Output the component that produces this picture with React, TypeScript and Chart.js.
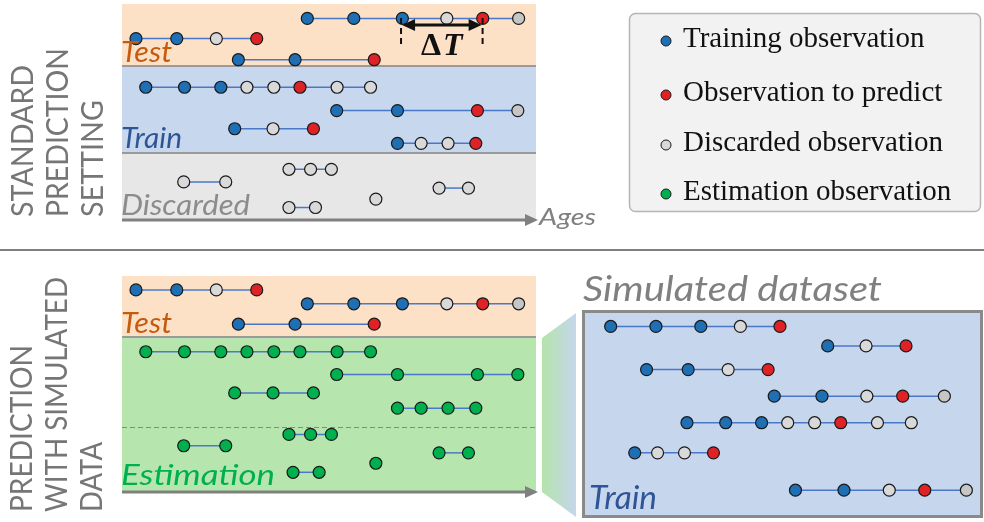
import { useEffect, useRef } from "react";
import { Chart, registerables } from "chart.js";
Chart.register(...registerables);

const W = 984;
const H = 522;

// ---------- data (ages in age units 0–100 along the "Ages" axis; lanes = row position) ----------
const testAges = [
  [44.1, 55.5, 67.4, 78.3, 87.1, 95.9],
  [2.1, 12.1, 21.8, 31.7],
  [27.2, 41.1, 60.5],
];
const testKinds = ["TTTDPd", "TTDP", "TTP"];
const testLanesTop = [0.75, 2.83, 5.0];
const testLanesBottom = [2.9, 1.47, 5.0];

const trainAges = [
  [4.5, 14.0, 22.9, 29.3, 35.9, 42.3, 51.4, 59.6],
  [51.3, 66.2, 85.8, 95.7],
  [26.3, 35.7, 45.6],
  [66.2, 72.0, 78.6, 85.4],
];
const trainKinds = ["TTTDDPDD", "TTPd", "TDP", "TDDP"];
const trainLanes = [7.83, 10.23, 12.1, 13.6];

const discardedAges = [[39.6, 44.9, 50.0], [13.8, 24.1], [76.4, 83.6], [60.9], [39.6, 46.1]];
const discardedLanes = [16.27, 17.57, 18.2, 19.33, 20.2];

const estimationAges = [
  [4.5, 14.0, 22.9, 29.3, 35.9, 42.3, 51.4, 59.6],
  [51.3, 66.2, 85.8, 95.7],
  [26.3, 35.7, 45.6],
  [66.2, 72.0, 78.6, 85.4],
  [39.6, 44.9, 50.0],
  [13.8, 24.1],
  [76.4, 83.6],
  [60.9],
  [40.6, 47.0],
];
const estimationLanes = [7.83, 10.17, 12.07, 13.63, 16.33, 17.5, 18.23, 19.3, 20.23];

const simAges = [
  [3.0, 14.1, 25.1, 34.8, 44.5],
  [56.2, 65.6, 75.4],
  [11.8, 22.0, 31.8, 41.6],
  [43.1, 54.8, 65.8, 74.6, 84.8],
  [21.7, 31.2, 40.0, 46.4, 53.0, 59.4, 68.4, 76.7],
  [8.9, 14.5, 21.1, 28.2],
  [48.3, 60.2, 71.3, 80.0, 90.2],
];
const simKinds = ["TTTDP", "TDP", "TTDP", "TTDPd", "TTTDDPDD", "TDDP", "TTDPd"];
const simLanes = [1.83, 3.83, 6.27, 9.0, 11.73, 14.83, 18.67];

const legendLabels = [
  "Training observation",
  "Observation to predict",
  "Discarded observation",
  "Estimation observation",
];
const legendKinds = ["T", "P", "D", "E"];

const topTitle = ["STANDARD", "PREDICTION", "SETTING"];
const bottomTitle = ["PREDICTION", "WITH SIMULATED", "DATA"];

// ---------- styles / layout ----------
const KIND_COLORS: Record<string, string> = {
  T: "#1f6fb4",
  P: "#df2226",
  D: "#d9d9d9",
  d: "#c6c6c6",
  E: "#00b04f",
};
const LINE_COLOR = "#4a78c8";
const PANEL_TOP = { x0: 122, top: 4, kx: 4.14, ky: 10 };
const PANEL_BOTTOM = { x0: 122, top: 276, kx: 4.14, ky: 10 };
const PANEL_SIM = { x0: 600, top: 310, kx: 4.14, ky: 10 };

type Panel = { x0: number; top: number; kx: number; ky: number };

function traj(ages: number[], kinds: string, lane: number, panel: Panel) {
  return {
    type: "scatter" as const,
    showLine: true,
    data: ages.map((a) => ({ x: panel.x0 + a * panel.kx, y: panel.top + lane * panel.ky })),
    borderColor: LINE_COLOR,
    borderWidth: 1.5,
    pointBackgroundColor: ages.map((_, i) => KIND_COLORS[kinds[i] || "D"]),
    pointBorderColor: "#1a1a1a",
    pointBorderWidth: 1.2,
    pointRadius: 6,
    clip: false as any,
  };
}

function buildDatasets() {
  const ds: any[] = [];
  testAges.forEach((a, i) => ds.push(traj(a, testKinds[i], testLanesTop[i], PANEL_TOP)));
  trainAges.forEach((a, i) => ds.push(traj(a, trainKinds[i], trainLanes[i], PANEL_TOP)));
  discardedAges.forEach((a, i) =>
    ds.push(traj(a, "D".repeat(a.length), discardedLanes[i], PANEL_TOP))
  );
  testAges.forEach((a, i) => ds.push(traj(a, testKinds[i], testLanesBottom[i], PANEL_BOTTOM)));
  estimationAges.forEach((a, i) =>
    ds.push(traj(a, "E".repeat(a.length), estimationLanes[i], PANEL_BOTTOM))
  );
  simAges.forEach((a, i) => ds.push(traj(a, simKinds[i], simLanes[i], PANEL_SIM)));
  return ds;
}

function arrowRight(ctx: CanvasRenderingContext2D, x0: number, x1: number, y: number, color: string) {
  ctx.save();
  ctx.strokeStyle = color;
  ctx.fillStyle = color;
  ctx.lineWidth = 3;
  ctx.beginPath();
  ctx.moveTo(x0, y);
  ctx.lineTo(x1 - 10, y);
  ctx.stroke();
  ctx.beginPath();
  ctx.moveTo(x1, y);
  ctx.lineTo(x1 - 13, y - 6);
  ctx.lineTo(x1 - 13, y + 6);
  ctx.closePath();
  ctx.fill();
  ctx.restore();
}

// vertical (rotated) text, stretched along its direction to a given length
function vText(ctx: CanvasRenderingContext2D, text: string, x: number, y: number, len: number) {
  const w = ctx.measureText(text).width;
  ctx.save();
  ctx.translate(x, y);
  ctx.rotate(-Math.PI / 2);
  ctx.scale(len / w, 1);
  ctx.textAlign = "left";
  ctx.textBaseline = "alphabetic";
  ctx.fillText(text, 0, 0);
  ctx.restore();
}

// draw text stretched horizontally to a given width (mimics a wider geometric font)
function fitText(ctx: CanvasRenderingContext2D, text: string, x: number, y: number, width: number) {
  const w = ctx.measureText(text).width;
  ctx.save();
  ctx.translate(x, y);
  ctx.scale(width / w, 1);
  ctx.textAlign = "left";
  ctx.textBaseline = "alphabetic";
  ctx.fillText(text, 0, 0);
  ctx.restore();
}

const decorPlugin = {
  id: "decor",
  beforeDatasetsDraw(chart: any) {
    const ctx: CanvasRenderingContext2D = chart.ctx;
    ctx.save();
    // top panel bands
    ctx.fillStyle = "#fde1c6";
    ctx.fillRect(122, 4, 414, 62);
    ctx.fillStyle = "#c6d7ee";
    ctx.fillRect(122, 66, 414, 87);
    ctx.fillStyle = "#e7e7e7";
    ctx.fillRect(122, 153, 414, 67);
    ctx.strokeStyle = "#9a9a9a";
    ctx.lineWidth = 2;
    ctx.beginPath();
    ctx.moveTo(122, 66);
    ctx.lineTo(536, 66);
    ctx.moveTo(122, 153);
    ctx.lineTo(536, 153);
    ctx.stroke();
    arrowRight(ctx, 122, 538, 220, "#808080");

    // divider
    ctx.strokeStyle = "#7f7f7f";
    ctx.lineWidth = 2;
    ctx.beginPath();
    ctx.moveTo(0, 250);
    ctx.lineTo(W, 250);
    ctx.stroke();

    // bottom panel bands
    ctx.fillStyle = "#fde1c6";
    ctx.fillRect(122, 276, 414, 61);
    ctx.fillStyle = "#b6e6ad";
    ctx.fillRect(122, 337, 414, 155);
    ctx.strokeStyle = "#9a9a9a";
    ctx.lineWidth = 2;
    ctx.beginPath();
    ctx.moveTo(122, 337);
    ctx.lineTo(536, 337);
    ctx.stroke();
    ctx.strokeStyle = "#6f9a63";
    ctx.lineWidth = 1;
    ctx.setLineDash([5, 3]);
    ctx.beginPath();
    ctx.moveTo(122, 427.5);
    ctx.lineTo(536, 427.5);
    ctx.stroke();
    ctx.setLineDash([]);
    arrowRight(ctx, 122, 538, 492, "#808080");

    // connector trapezoid
    const g = ctx.createLinearGradient(542, 0, 576, 0);
    g.addColorStop(0, "#b4e4ab");
    g.addColorStop(1, "#c5d6ec");
    ctx.fillStyle = g;
    ctx.beginPath();
    ctx.moveTo(542, 338);
    ctx.lineTo(576, 313);
    ctx.lineTo(576, 517);
    ctx.lineTo(542, 492);
    ctx.closePath();
    ctx.fill();

    // simulated dataset box
    ctx.fillStyle = "#c6d6ed";
    ctx.fillRect(582, 310, 401, 208);
    ctx.strokeStyle = "#8a8a8a";
    ctx.lineWidth = 3;
    ctx.strokeRect(583.5, 311.5, 398, 205);

    // legend box
    ctx.fillStyle = "#f2f2f2";
    ctx.strokeStyle = "#b5b5b5";
    ctx.lineWidth = 1.5;
    ctx.beginPath();
    (ctx as any).roundRect(629.5, 13.5, 351, 198, 6);
    ctx.fill();
    ctx.stroke();
    ctx.restore();
  },
  afterDatasetsDraw(chart: any) {
    const ctx: CanvasRenderingContext2D = chart.ctx;
    ctx.save();
    // panel labels
    ctx.font = "italic 29px Lato";
    ctx.fillStyle = "#c55a11";
    fitText(ctx, "Test", 121, 62, 51);
    fitText(ctx, "Test", 121, 333, 51);
    ctx.fillStyle = "#2f5597";
    fitText(ctx, "Train", 121, 148, 61);
    ctx.fillStyle = "#8c8c8c";
    fitText(ctx, "Discarded", 121, 215, 129);
    ctx.fillStyle = "#00b050";
    fitText(ctx, "Estimation", 121, 485, 154);
    ctx.font = "italic 32px Lato";
    ctx.fillStyle = "#2f5597";
    fitText(ctx, "Train", 589, 509, 68);
    ctx.fillStyle = "#808080";
    ctx.font = "italic 24px Lato";
    fitText(ctx, "Ages", 539, 225, 57);
    ctx.font = "italic 34px Lato";
    fitText(ctx, "Simulated dataset", 583, 301, 299);

    // vertical titles
    ctx.fillStyle = "#767676";
    ctx.font = "31px Lato";
    const topLens = [152, 169, 117];
    const botLens = [167, 235, 70];
    const colX = [33, 68, 103];
    topTitle.forEach((t, i) => vText(ctx, t, colX[i], 217, topLens[i]));
    bottomTitle.forEach((t, i) => vText(ctx, t, colX[i] - (i === 2 ? 1 : 1), 512, botLens[i]));

    // ΔT annotation from test trajectory 0 (training end → prediction)
    const xa = PANEL_TOP.x0 + testAges[0][2] * PANEL_TOP.kx;
    const xb = PANEL_TOP.x0 + testAges[0][4] * PANEL_TOP.kx;
    ctx.strokeStyle = "#111";
    ctx.fillStyle = "#111";
    ctx.lineWidth = 2;
    ctx.setLineDash([6, 4]);
    ctx.beginPath();
    ctx.moveTo(xa, 18);
    ctx.lineTo(xa, 48);
    ctx.moveTo(xb, 18);
    ctx.lineTo(xb, 48);
    ctx.stroke();
    ctx.setLineDash([]);
    ctx.lineWidth = 3;
    ctx.beginPath();
    ctx.moveTo(xa + 10, 25);
    ctx.lineTo(xb - 10, 25);
    ctx.stroke();
    ctx.beginPath();
    ctx.moveTo(xa + 1, 25);
    ctx.lineTo(xa + 14, 19);
    ctx.lineTo(xa + 14, 31);
    ctx.closePath();
    ctx.fill();
    ctx.beginPath();
    ctx.moveTo(xb - 1, 25);
    ctx.lineTo(xb - 14, 19);
    ctx.lineTo(xb - 14, 31);
    ctx.closePath();
    ctx.fill();
    ctx.font = "bold 32px 'Liberation Serif'";
    const wD = ctx.measureText("Δ").width;
    ctx.font = "italic bold 32px 'Liberation Serif'";
    const wT = ctx.measureText("T").width;
    const cx = (xa + xb) / 2;
    const sx = cx - (wD + wT + 2) / 2;
    ctx.textAlign = "left";
    ctx.textBaseline = "alphabetic";
    ctx.font = "bold 32px 'Liberation Serif'";
    ctx.fillText("Δ", sx, 55);
    ctx.font = "italic bold 32px 'Liberation Serif'";
    ctx.fillText("T", sx + wD + 2, 55);

    // legend
    const baselines = [47, 101, 151, 200];
    ctx.font = "29px 'Liberation Serif'";
    legendLabels.forEach((lab, i) => {
      const by = baselines[i];
      ctx.beginPath();
      ctx.arc(666, by - 6, 5, 0, Math.PI * 2);
      ctx.fillStyle = KIND_COLORS[legendKinds[i]];
      ctx.fill();
      ctx.strokeStyle = "#1a1a1a";
      ctx.lineWidth = 1;
      ctx.stroke();
      ctx.fillStyle = "#111";
      ctx.fillText(lab, 683, by);
    });
    ctx.restore();
  },
};

export default function App() {
  const ref = useRef<HTMLCanvasElement | null>(null);
  useEffect(() => {
    document.body.style.margin = "0";
    const canvas = ref.current!;
    const chart = new Chart(canvas, {
      type: "scatter",
      data: { datasets: buildDatasets() },
      options: {
        animation: false,
        responsive: false,
        devicePixelRatio: 1,
        layout: { padding: 0 },
        events: [],
        plugins: { legend: { display: false }, tooltip: { enabled: false } },
        scales: {
          x: { type: "linear", min: 0, max: W, display: false },
          y: { type: "linear", min: 0, max: H, reverse: true, display: false },
        },
      },
      plugins: [decorPlugin],
    });
    return () => chart.destroy();
  }, []);
  return (
    <div style={{ position: "absolute", left: 0, top: 0, width: W, height: H, background: "#fff" }}>
      <canvas ref={ref} width={W} height={H} style={{ width: W, height: H }} />
    </div>
  );
}
